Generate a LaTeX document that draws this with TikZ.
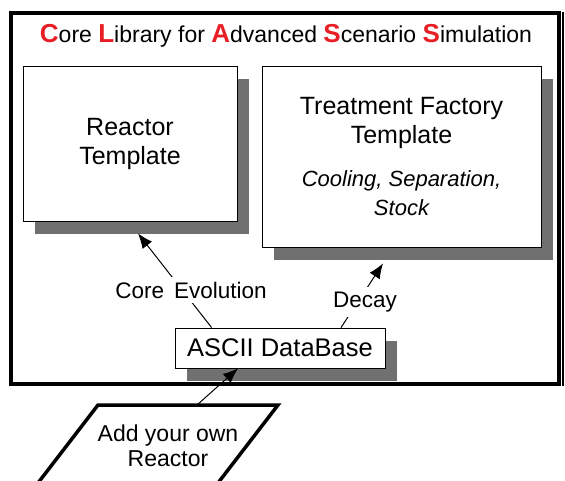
\documentclass[tikz,border=0pt]{standalone}
\usepackage{fontspec}
\setmainfont{Liberation Sans}
\usetikzlibrary{arrows.meta,calc,shadows}
\definecolor{cred}{RGB}{232,30,37}
\definecolor{shgray}{RGB}{112,112,112}
\begin{document}
\begin{tikzpicture}[x=1pt,y=-1pt,
  tmpl/.style={draw=black,line width=0.8pt,fill=white,inner sep=0pt,align=center,
    drop shadow={shadow xshift=12pt,shadow yshift=-13pt,fill=shgray,opacity=1},
    font=\fontsize{25}{29}\selectfont},
  conn/.style={line width=1pt,-{Latex[length=15pt,width=12pt]}},
  lbl/.style={fill=white,inner sep=5pt,font=\fontsize{22.5}{26}\selectfont}]
\path[use as bounding box] (0,0) rectangle (565,481);
% outer frame
\node[draw=black,line width=3.5pt,minimum width=548pt,minimum height=371pt,inner sep=0pt] (frame) at (285,198.5) {};
\draw[line width=1.2pt] (563,12) -- (563,386);
% title
\node[font=\fontsize{23}{27}\selectfont,inner sep=0pt] (title) at (286,36)
  {{\color{cred}\bfseries\fontsize{26}{27}\selectfont C}ore {\color{cred}\bfseries\fontsize{26}{27}\selectfont L}ibrary for {\color{cred}\bfseries\fontsize{26}{27}\selectfont A}dvanced {\color{cred}\bfseries\fontsize{26}{27}\selectfont S}cenario {\color{cred}\bfseries\fontsize{26}{27}\selectfont S}imulation};
% boxes
\node[tmpl,minimum width=214pt,minimum height=155pt] (reactor) at (130,143.5) {Reactor\\Template};
\node[tmpl,minimum width=279pt,minimum height=181pt] (treat) at (401.5,156.5)
  {Treatment Factory\\Template\\[14pt]{\fontsize{22}{27}\selectfont\itshape Cooling, Separation,}\\{\fontsize{22}{27}\selectfont\itshape Stock}};
\node[tmpl,minimum width=210pt,minimum height=40pt,font=\fontsize{25.5}{29}\selectfont] (ascii) at (280,348) {ASCII DataBase};
% connectors
\coordinate (ceS) at ($(ascii.north west)+(37,0)$);
\coordinate (ceE) at ($(reactor.south)+(8,12)$);
\coordinate (dcS) at ($(ascii.north)+(61,0)$);
\coordinate (dcE) at ($(treat.south)+(-18.5,16)$);
\draw[conn] (ceS) -- (ceE);
\draw[conn] (dcS) -- (dcE);
\node[lbl] (celbl) at (191,290) {Core\hspace{0.45em}Evolution};
\node[lbl] (dclbl) at (365,302) {Decay};
% add your own reactor
\begin{scope}
\clip (0,0) rectangle (565,481);
\coordinate (ptl) at (98,405);
\coordinate (ptr) at (278,405);
\coordinate (pbr) at (189.5,520);
\coordinate (pbl) at (9.5,520);
\draw[line width=3.5pt,line join=miter] (pbl) -- (ptl) -- (ptr) -- (pbr);
\end{scope}
\node[align=center,inner sep=0pt,font=\fontsize{23}{25}\selectfont] (add) at (168,446) {Add your own\\Reactor};
\coordinate (inS) at (197,405);
\draw[conn] (inS) -- ($(ascii.south)+(-42,0)$);
\end{tikzpicture}
\end{document}
